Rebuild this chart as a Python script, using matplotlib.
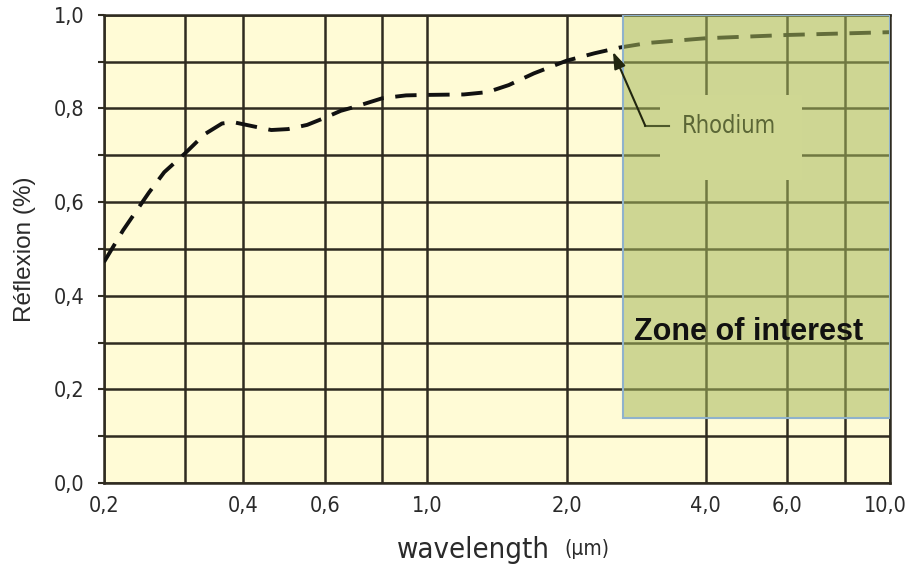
import matplotlib
matplotlib.use("Agg")
import matplotlib.pyplot as plt
from matplotlib.patches import Rectangle
from matplotlib.ticker import FixedLocator, NullLocator, MultipleLocator

# ---- data ----
wavelength_um = [0.2, 0.22, 0.25, 0.27, 0.3, 0.33, 0.36, 0.38, 0.42, 0.46, 0.5, 0.55,
                 0.6, 0.65, 0.7, 0.8, 0.9, 1.0, 1.2, 1.35, 1.5, 1.7, 2.0, 2.3, 2.6,
                 3.0, 4.0, 6.0, 10.0]
reflexion = [0.472, 0.54, 0.62, 0.664, 0.705, 0.745, 0.768, 0.771, 0.762, 0.754, 0.756,
             0.765, 0.78, 0.795, 0.804, 0.822, 0.828, 0.829, 0.83, 0.835, 0.85, 0.875,
             0.902, 0.918, 0.93, 0.94, 0.95, 0.957, 0.963]

x_grid = [0.2, 0.3, 0.4, 0.6, 0.8, 1.0, 2.0, 4.0, 6.0, 8.0, 10.0]
x_ticks = [0.2, 0.4, 0.6, 1.0, 2.0, 4.0, 6.0, 10.0]
x_tick_labels = ["0,2", "0,4", "0,6", "1,0", "2,0", "4,0", "6,0", "10,0"]
y_grid = [0.0, 0.1, 0.2, 0.3, 0.4, 0.5, 0.6, 0.7, 0.8, 0.9, 1.0]
y_ticks = [0.0, 0.2, 0.4, 0.6, 0.8, 1.0]
y_tick_labels = ["0,0", "0,2", "0,4", "0,6", "0,8", "1,0"]

zone_x = [2.65, 10.0]
zone_y = [0.14, 1.0]

REG = ["Liberation Sans", "DejaVu Sans"]
NARROW_KW = dict(family=["DejaVu Sans"], stretch="condensed")

cream = "#fffbd6"
gridc = "#2f2b20"
zone_bg = "#cfd793"
textc = "#2a2a2a"

fig = plt.figure(figsize=(9.08, 5.71), dpi=100)
ax = fig.add_axes([0.1145, 0.154, 0.8655, 0.82])
ax.set_facecolor(cream)
ax.set_xscale("log")
ax.set_xlim(0.2, 10.0)
ax.set_ylim(0.0, 1.0)

for gx in x_grid:
    ax.axvline(gx, color=gridc, lw=1.8, zorder=1)
for gy in y_grid:
    ax.axhline(gy, color=gridc, lw=1.8, zorder=1)

# x tick labels drawn as annotations (last one kept inside the figure)
ax.xaxis.set_major_locator(NullLocator())
ax.xaxis.set_minor_locator(NullLocator())
for i, (v, lab) in enumerate(zip(x_ticks, x_tick_labels)):
    last = i == len(x_ticks) - 1
    ax.annotate(lab, xy=(v, 0), xycoords=("data", "axes fraction"),
                xytext=(12 if last else 0, -9), textcoords="offset points",
                ha="right" if last else "center", va="top",
                fontsize=15.5, color=textc, annotation_clip=False, **NARROW_KW)

ax.set_yticks(y_ticks)
ax.set_yticklabels(y_tick_labels, fontsize=15.5, color=textc, **NARROW_KW)
ax.yaxis.set_minor_locator(MultipleLocator(0.1))
ax.tick_params(axis="y", which="both", length=4, width=1.5, color=gridc, pad=10)
for s in ax.spines.values():
    s.set_color(gridc)
    s.set_linewidth(1.8)

# curve
ax.plot(wavelength_um, reflexion, color="#111111", lw=2.8,
        linestyle=(0, (5.5, 3.0)), dash_capstyle="butt", zorder=3)

# zone of interest overlay
ax.add_patch(Rectangle((zone_x[0], zone_y[0]), zone_x[1] - zone_x[0], zone_y[1] - zone_y[0],
                       facecolor="#a7b95d", alpha=0.55, edgecolor="none", zorder=4))
ax.add_patch(Rectangle((zone_x[0], zone_y[0]), zone_x[1] - zone_x[0], zone_y[1] - zone_y[0],
                       facecolor="none", edgecolor="#8fb2cc", lw=1.5, zorder=5))

# Rhodium label with cleared background
ax.add_patch(Rectangle((3.18, 0.647), 6.46 - 3.18, 0.829 - 0.647,
                       facecolor=zone_bg, edgecolor="none", zorder=5.5))
ax.text(4.5, 0.763, "Rhodium", fontsize=17, color="#5b6636",
        ha="center", va="center", zorder=6, **NARROW_KW)
ax.plot([3.33, 2.96], [0.763, 0.763], color="#4f5a2c", lw=1.5, zorder=6)
ax.annotate("", xy=(2.52, 0.921), xytext=(2.96, 0.763),
            arrowprops=dict(arrowstyle="-|>,head_length=1.0,head_width=0.35",
                            color="#22260f", lw=1.5, shrinkA=0, shrinkB=0), zorder=6)

ax.text(2.8, 0.323, "Zone of interest", fontfamily=REG, fontweight="bold",
        fontsize=22, color="#111111", ha="left", va="center", zorder=7)

ax.set_ylabel("Réflexion (%)", fontfamily=REG, fontsize=17.5, color=textc, labelpad=13)
fig.text(0.437, 0.022, "wavelength", fontsize=21, color=textc,
         ha="left", va="baseline", **NARROW_KW)
fig.text(0.622, 0.028, "(µm)", fontsize=15, color=textc,
         ha="left", va="baseline", **NARROW_KW)

fig.savefig("out.png", dpi=100, facecolor="white")
